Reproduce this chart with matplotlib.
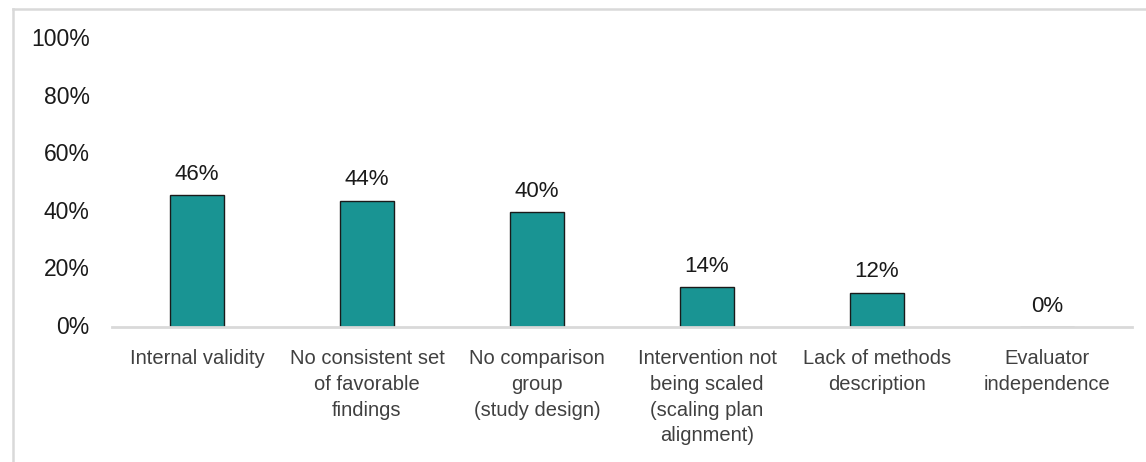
import matplotlib
matplotlib.use("Agg")
import matplotlib.pyplot as plt
from matplotlib.lines import Line2D
from matplotlib.ticker import PercentFormatter

categories = [
    "Internal validity",
    "No consistent set\nof favorable\nfindings",
    "No comparison\ngroup\n(study design)",
    "Intervention not\nbeing scaled\n(scaling plan\nalignment)",
    "Lack of methods\ndescription",
    "Evaluator\nindependence",
]
shares = [46, 44, 40, 14, 12, 0]
yticks = [0, 20, 40, 60, 80, 100]

plt.rcParams["font.family"] = ["Liberation Sans", "DejaVu Sans"]

fig = plt.figure(figsize=(11.46, 4.62), dpi=100)
ax = fig.add_axes([112 / 1146, 1 - 327 / 462, 1020 / 1146, 287 / 462])

x = range(len(categories))
bars = ax.bar(x, shares, width=0.32, color="#199493", edgecolor="#1a1a1a", linewidth=1.0, zorder=2)

for rect, v in zip(bars, shares):
    ax.annotate(f"{v}%", (rect.get_x() + rect.get_width() / 2, v),
                xytext=(0, 11), textcoords="offset points",
                ha="center", va="baseline", fontsize=16, color="#1a1a1a")

ax.set_xlim(-0.5, len(categories) - 0.5)
ax.set_ylim(0, 100)
ax.set_yticks(yticks)
ax.yaxis.set_major_formatter(PercentFormatter(decimals=0))
ax.set_xticks(list(x))
ax.set_xticklabels(categories, fontsize=14.5, color="#404040", linespacing=1.45)

ax.tick_params(axis="y", length=0, pad=16, labelsize=16.5, labelcolor="#1a1a1a")
ax.tick_params(axis="x", length=0, pad=16)
for lbl in ax.get_yticklabels():
    lbl.set_verticalalignment("center")

for side in ["top", "right", "left"]:
    ax.spines[side].set_visible(False)
ax.spines["bottom"].set_color("#d9d9d9")
ax.spines["bottom"].set_linewidth(2)

# light outer frame along the top and left edges
fig.add_artist(Line2D([12.5 / 1146, 1], [1 - 9 / 462, 1 - 9 / 462], color="#d9d9d9", linewidth=1.8))
fig.add_artist(Line2D([12.5 / 1146, 12.5 / 1146], [0, 1 - 9 / 462], color="#d9d9d9", linewidth=1.8))

fig.savefig("out.png", dpi=100)
